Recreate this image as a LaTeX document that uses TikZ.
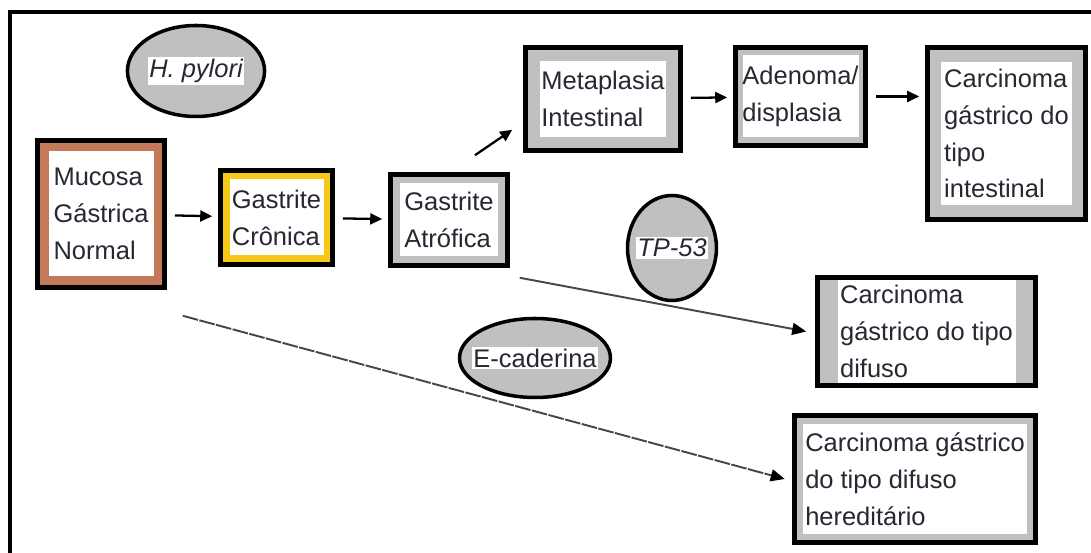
\documentclass[tikz,border=0pt]{standalone}
\usepackage{fontspec}
\setmainfont{Liberation Sans}
\usetikzlibrary{arrows.meta,calc,shapes.geometric}
\definecolor{bandgray}{RGB}{192,192,192}
\definecolor{bandbrown}{RGB}{196,122,88}
\definecolor{bandyellow}{RGB}{248,200,24}
\definecolor{inkgray}{RGB}{40,40,52}
\tikzset{
  stage/.style n args={3}{
    draw=black,
    line width=2.6pt,
    fill=#1,
    align=left,
    text=inkgray,
    inner sep=0pt,
    font=\fontsize{14.5}{21}\selectfont,
    path picture={\fill[white]
      ([shift={(#2,-#3)}]path picture bounding box.north west) rectangle
      ([shift={(-#2,#3)}]path picture bounding box.south east);}
  },
  factor/.style={
    ellipse,
    draw=black,
    line width=2pt,
    fill=bandgray,
    inner sep=0pt,
    text=inkgray,
    font=\fontsize{14.5}{17}\selectfont
  },
  step arrow/.style={-{Triangle[length=0.24cm,width=0.22cm]}, line width=1.3pt, shorten >=0.12cm, shorten <=0.16cm},
  long arrow/.style={-{Triangle[length=0.28cm,width=0.24cm,color=black]}, line width=1.1pt, draw=black!72},
  outer frame/.style={line width=2.4pt, line cap=rect}
}
\newcommand{\whitelabel}[1]{{\setlength{\fboxsep}{1pt}\colorbox{white}{#1}}}

\begin{document}
\begin{tikzpicture}
  \useasboundingbox (0,0) rectangle (21.82,11.06);
  \draw[outer frame] (0.2,-0.3) -- (0.2,10.82) -- (22.1,10.82);

  % stages
  \node[stage={bandbrown}{0.22}{0.22}, minimum width=2.54cm, minimum height=2.94cm] (mucosa) at (2.02,6.78) {Mucosa\\Gástrica\\Normal};
  \node[stage={bandyellow}{0.18}{0.18}, minimum width=2.24cm, minimum height=1.88cm] (cronica) at (5.53,6.71) {Gastrite\\Crônica};
  \node[stage={bandgray}{0.19}{0.18}, minimum width=2.34cm, minimum height=1.82cm] (atrofica) at (8.98,6.66) {Gastrite\\Atrófica};
  \node[stage={bandgray}{0.29}{0.27}, minimum width=3.1cm, minimum height=2.06cm] (metaplasia) at (12.06,9.08) {Metaplasia\\Intestinal};
  \node[stage={bandgray}{0.14}{0.16}, minimum width=2.6cm, minimum height=1.96cm] (adenoma) at (16.01,9.13) {Adenoma/\\displasia};
  \node[stage={bandgray}{0.27}{0.29}, minimum width=3.16cm, minimum height=3.44cm] (carcint) at (20.13,8.39) {Carcinoma\\gástrico do\\tipo\\intestinal};
  \node[stage={bandgray}{0.4}{0.05}, minimum width=4.36cm, minimum height=2.16cm] (carcdif) at (18.53,4.43) {Carcinoma\\gástrico do tipo\\difuso};
  \node[stage={bandgray}{0.17}{0.17}, minimum width=4.82cm, minimum height=2.54cm] (carchered) at (18.3,1.48) {Carcinoma gástrico\\do tipo difuso\\hereditário};

  % factors
  \node[factor, minimum width=2.68cm, minimum height=1.82cm] (hpylori) at (3.92,9.64) {\whitelabel{\itshape H. pylori}};
  \node[factor, inner xsep=-0.1cm, minimum width=1.72cm, minimum height=2.1cm] (tp53) at (13.44,6.1) {\whitelabel{\itshape TP-53}};
  \node[factor, inner xsep=-0.2cm, minimum width=2.92cm, minimum height=1.58cm] (ecad) at (10.7,3.9) {\whitelabel{E-caderina}};

  % connectors
  \draw[step arrow] (mucosa) -- (cronica);
  \draw[step arrow] (cronica) -- (atrofica);
  \draw[step arrow, shorten <=0pt, shorten >=0pt] ([shift={(0.52,0.34)}]atrofica.north) -- ([shift={(-0.22,0.46)}]metaplasia.south west);
  \draw[step arrow] (metaplasia) -- (adenoma);
  \draw[step arrow] (adenoma) -- (adenoma -| carcint.west);
  \draw[long arrow] ([shift={(0.2,-0.2)}]atrofica.south east) -- ([xshift=-0.18cm]carcdif.west);
  \draw[long arrow, dash pattern=on 9pt off 0.8pt] ([shift={(0.32,-0.52)}]mucosa.south east) -- ([xshift=-0.15cm]carchered.west);
\end{tikzpicture}
\end{document}
